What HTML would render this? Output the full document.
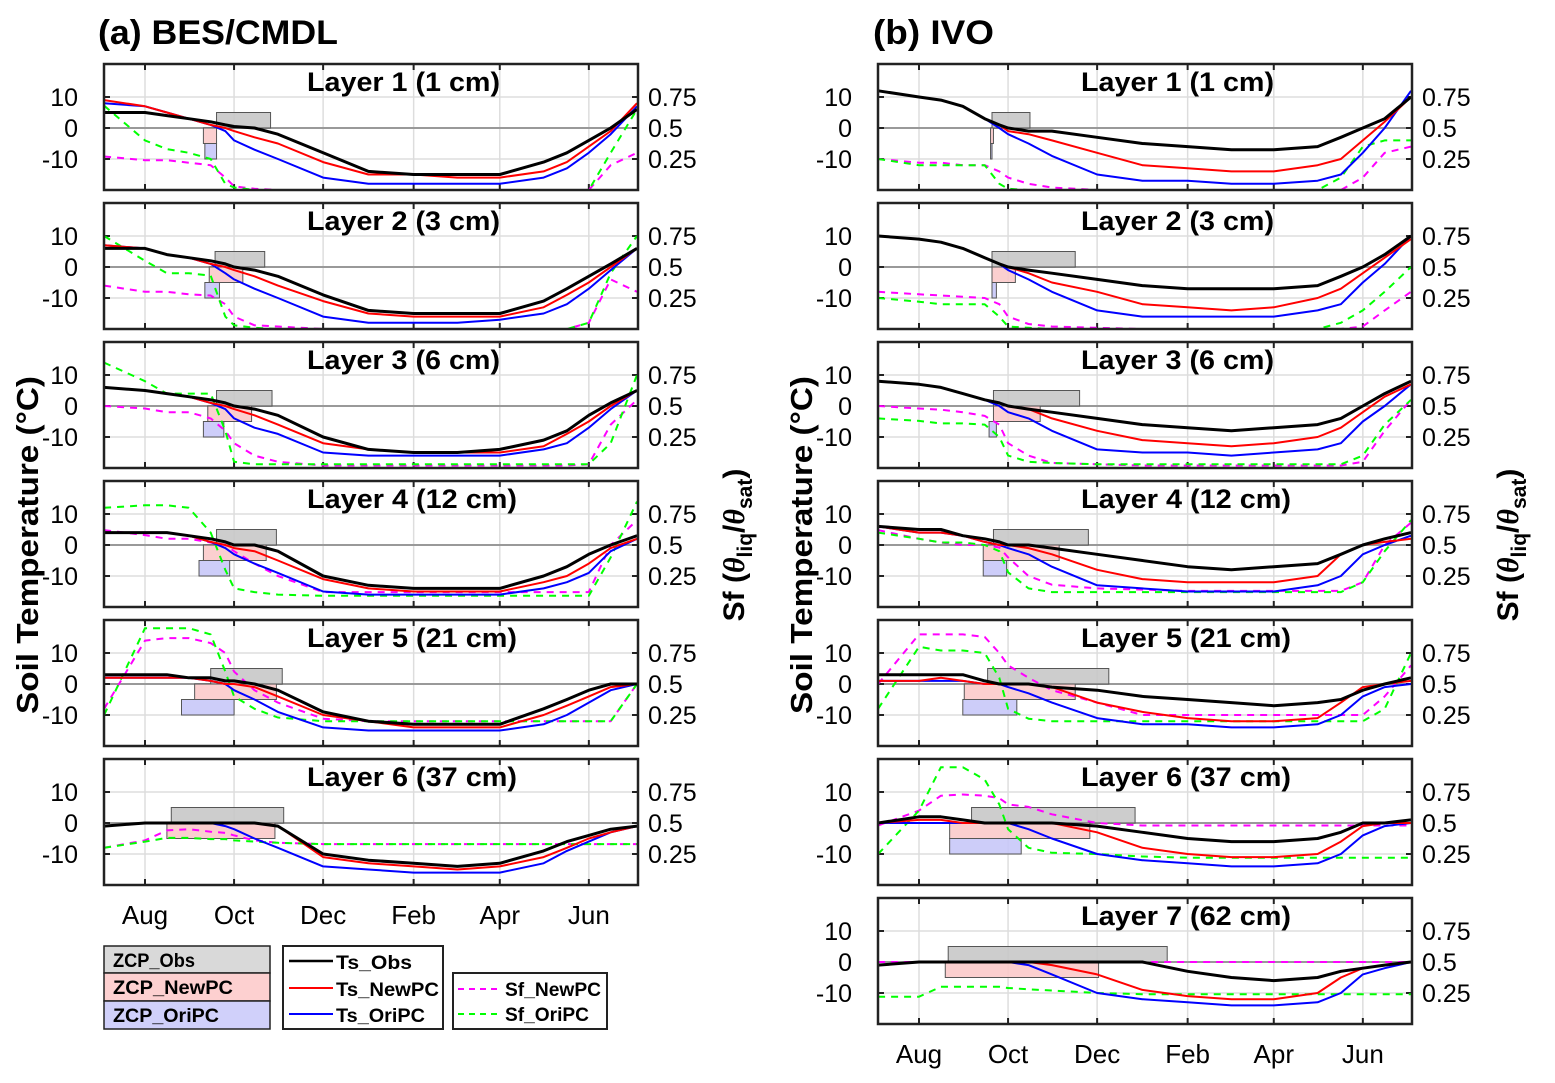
<!DOCTYPE html>
<html><head><meta charset="utf-8"><style>
body{margin:0;background:#fff}
svg{display:block;font-family:"Liberation Sans",sans-serif}
</style></head><body>
<svg id="fig" width="1555" height="1083" viewBox="0 0 1555 1083" xmlns="http://www.w3.org/2000/svg">
<text x="98" y="44" font-size="34" font-weight="bold" textLength="240" lengthAdjust="spacingAndGlyphs">(a) BES/CMDL</text>
<text x="873" y="44" font-size="34" font-weight="bold" textLength="121" lengthAdjust="spacingAndGlyphs">(b) IVO</text>
<text transform="translate(38,545) rotate(-90)" text-anchor="middle" font-size="31" font-weight="bold" textLength="338" lengthAdjust="spacingAndGlyphs">Soil Temperature (°C)</text>
<text transform="translate(744,545) rotate(-90)" text-anchor="middle" font-size="30" font-weight="bold">Sf (<tspan font-family="Liberation Serif" font-style="italic">θ</tspan><tspan font-size="21" dy="8">liq</tspan><tspan dy="-8">/</tspan><tspan font-family="Liberation Serif" font-style="italic">θ</tspan><tspan font-size="21" dy="8">sat</tspan><tspan dy="-8">)</tspan></text>
<text transform="translate(812,545) rotate(-90)" text-anchor="middle" font-size="31" font-weight="bold" textLength="338" lengthAdjust="spacingAndGlyphs">Soil Temperature (°C)</text>
<text transform="translate(1518,545) rotate(-90)" text-anchor="middle" font-size="30" font-weight="bold">Sf (<tspan font-family="Liberation Serif" font-style="italic">θ</tspan><tspan font-size="21" dy="8">liq</tspan><tspan dy="-8">/</tspan><tspan font-family="Liberation Serif" font-style="italic">θ</tspan><tspan font-size="21" dy="8">sat</tspan><tspan dy="-8">)</tspan></text>
<g id="plots"></g>
<g>
<rect x="104" y="946" width="166" height="27" fill="#d9d9d9" stroke="#222" stroke-width="1.5"/>
<rect x="104" y="973" width="166" height="28" fill="#fdd0d0" stroke="#222" stroke-width="1.5"/>
<rect x="104" y="1001" width="166" height="28" fill="#d0d0fa" stroke="#222" stroke-width="1.5"/>
<text x="113" y="967" font-size="19" font-weight="bold" textLength="82" lengthAdjust="spacingAndGlyphs">ZCP_Obs</text>
<text x="113" y="994" font-size="19" font-weight="bold" textLength="120" lengthAdjust="spacingAndGlyphs">ZCP_NewPC</text>
<text x="113" y="1022" font-size="19" font-weight="bold" textLength="106" lengthAdjust="spacingAndGlyphs">ZCP_OriPC</text>
</g>
<g>
<rect x="283" y="946" width="160" height="83" fill="#fff" stroke="#222" stroke-width="2"/>
<line x1="289" y1="961" x2="333" y2="961" stroke="#000" stroke-width="2.5"/>
<line x1="289" y1="988" x2="333" y2="988" stroke="#f00" stroke-width="2"/>
<line x1="289" y1="1014" x2="333" y2="1014" stroke="#00f" stroke-width="2"/>
<text x="336" y="969" font-size="19" font-weight="bold" textLength="76" lengthAdjust="spacingAndGlyphs">Ts_Obs</text>
<text x="336" y="996" font-size="19" font-weight="bold" textLength="103" lengthAdjust="spacingAndGlyphs">Ts_NewPC</text>
<text x="336" y="1022" font-size="19" font-weight="bold" textLength="89" lengthAdjust="spacingAndGlyphs">Ts_OriPC</text>
</g>
<g>
<rect x="453" y="973" width="154" height="56" fill="#fff" stroke="#222" stroke-width="2"/>
<line x1="458" y1="989" x2="500" y2="989" stroke="#f0f" stroke-width="2" stroke-dasharray="6,5"/>
<line x1="458" y1="1014" x2="500" y2="1014" stroke="#0f0" stroke-width="2" stroke-dasharray="6,5"/>
<text x="505" y="996" font-size="19" font-weight="bold" textLength="96" lengthAdjust="spacingAndGlyphs">Sf_NewPC</text>
<text x="505" y="1021" font-size="19" font-weight="bold" textLength="84" lengthAdjust="spacingAndGlyphs">Sf_OriPC</text>
</g>
</svg>
<script>
// sample days (days since Aug 1)
const days = [-28,0,15,30,45,55,61,75,91,122,153,184,214,243,273,289,304,319,337];
const monthLabels = ["Aug","Oct","Dec","Feb","Apr","Jun"];
const monthDays = [0,61,122,184,243,304];
const layerNames = ["Layer 1 (1 cm)","Layer 2 (3 cm)","Layer 3 (6 cm)","Layer 4 (12 cm)","Layer 5 (21 cm)","Layer 6 (37 cm)","Layer 7 (62 cm)"];
const tTicks = [10,0,-10];
const sfTicks = ["0.75","0.5","0.25"];
// Site A (BES/CMDL)
const obsA = [
[5,5,4,3,2,1,0.5,0,-2,-8,-14,-15,-15,-15,-11,-8,-4,0,6],
[6,6,4,3,2,1,0,-1,-3,-9,-14,-15,-15,-15,-11,-7,-3,1,6],
[6,5,4,3,2,1,0,-1,-3,-10,-14,-15,-15,-14,-11,-8,-3,1,5],
[4,4,4,3,2,1,0,0,-2,-10,-13,-14,-14,-14,-10,-7,-3,0,3],
[3,3,3,2,2,1,1,0,-2,-9,-12,-13,-13,-13,-8,-5,-2,0,0],
[-1,0,0,0,0,0,0,0,-1,-10,-12,-13,-14,-13,-9,-6,-4,-2,-1]];
const newA = [
[9,7,5,3,1,0,-1,-3,-5,-11,-15,-15,-16,-16,-14,-11,-6,-1,8],
[7,6,4,3,1,0,-1,-3,-6,-11,-15,-16,-16,-16,-13,-9,-5,0,6],
[6,5,4,3,1,0,-1,-3,-6,-12,-14,-15,-15,-15,-13,-9,-5,0,5],
[4,4,4,3,1,0,-1,-2,-5,-11,-14,-15,-15,-15,-12,-10,-6,-1,2],
[2,2,2,2,1,0,0,-1,-4,-10,-12,-14,-14,-14,-10,-7,-4,-1,0],
[-1,0,0,0,0,0,0,0,-1,-11,-13,-14,-15,-14,-11,-8,-5,-3,-1]];
const oriA = [
[8,7,5,3,1,-1,-4,-7,-10,-16,-18,-18,-18,-18,-16,-13,-8,-2,7],
[7,6,4,3,1,-2,-4,-7,-10,-16,-18,-18,-18,-17,-15,-12,-7,-1,6],
[6,5,4,3,1,-1,-4,-7,-9,-15,-16,-16,-16,-16,-14,-12,-7,-1,5],
[4,4,4,3,1,-1,-3,-6,-9,-15,-16,-16,-16,-16,-14,-12,-9,-2,2],
[2,2,2,2,1,0,-2,-5,-9,-14,-15,-15,-15,-15,-13,-10,-6,-2,0],
[-1,0,0,0,0,-1,-2,-5,-8,-14,-15,-16,-16,-16,-13,-9,-6,-3,-1]];
const sfNewA = [
[0.27,0.24,0.24,0.22,0.2,0.1,0.03,0.01,0,0,0,0,0,0,0,0,0,0.2,0.3],
[0.35,0.3,0.3,0.28,0.27,0.2,0.1,0.03,0.02,0,0,0,0,0,0,0,0.05,0.4,0.3],
[0.5,0.48,0.45,0.45,0.4,0.3,0.2,0.1,0.05,0.02,0.02,0.02,0.02,0.02,0.02,0.02,0.03,0.35,0.55],
[0.62,0.58,0.55,0.55,0.52,0.5,0.45,0.35,0.25,0.12,0.12,0.12,0.12,0.12,0.12,0.12,0.12,0.5,0.7],
[0.3,0.85,0.87,0.87,0.83,0.75,0.6,0.45,0.35,0.22,0.2,0.2,0.2,0.2,0.2,0.2,0.2,0.2,0.5],
[0.3,0.36,0.44,0.45,0.43,0.42,0.4,0.36,0.34,0.33,0.33,0.33,0.33,0.33,0.33,0.33,0.33,0.33,0.33]];
const sfOriA = [
[0.68,0.4,0.33,0.3,0.25,0.05,0.02,0,0,0,0,0,0,0,0,0,0,0.3,0.65],
[0.75,0.55,0.45,0.45,0.43,0.1,0.03,0.01,0,0,0,0,0,0,0,0,0.05,0.45,0.75],
[0.85,0.7,0.6,0.6,0.6,0.3,0.05,0.03,0.03,0.03,0.03,0.03,0.03,0.03,0.03,0.03,0.03,0.2,0.75],
[0.8,0.82,0.82,0.8,0.6,0.3,0.15,0.12,0.1,0.09,0.09,0.09,0.09,0.09,0.09,0.09,0.09,0.4,0.85],
[0.25,0.95,0.95,0.95,0.9,0.6,0.4,0.3,0.23,0.2,0.2,0.2,0.2,0.2,0.2,0.2,0.2,0.2,0.5],
[0.3,0.35,0.38,0.38,0.37,0.37,0.36,0.35,0.34,0.33,0.33,0.33,0.33,0.33,0.33,0.33,0.33,0.33,0.33]];
const zcpObsA = [[49,86],[48,82],[49,87],[49,90],[45,94],[18,95]];
const zcpNewA = [[40,49],[44,67],[43,73],[40,83],[34,90],[15,89]];
const zcpOriA = [[41,49],[41,51],[40,54],[37,58],[25,61],null];
// Site B (IVO)
const obsB = [
[12,10,9,7,3,1,0,-1,-1,-3,-5,-6,-7,-7,-6,-3,0,3,10],
[10,9,8,6,3,1,0,-1,-2,-4,-6,-7,-7,-7,-6,-3,0,4,10],
[8,7,6,4,2,1,0,-1,-2,-4,-6,-7,-8,-7,-6,-4,0,4,8],
[6,5,5,3,2,1,0,0,-1,-3,-5,-7,-8,-7,-6,-3,0,2,4],
[3,3,3,3,1,0,0,0,-1,-2,-4,-5,-6,-7,-6,-5,-2,0,2],
[0,2,2,1,0,0,0,0,0,-1,-3,-5,-6,-6,-5,-3,0,0,1],
[-1,0,0,0,0,0,0,0,0,0,0,-3,-5,-6,-5,-3,-2,-1,0]];
const newB = [
[12,10,9,7,3,1,-1,-2,-4,-8,-12,-13,-14,-14,-12,-10,-4,2,10],
[10,9,8,6,3,1,0,-2,-5,-8,-12,-13,-14,-13,-10,-7,-2,3,9],
[8,7,6,4,2,1,0,-1,-4,-8,-11,-12,-13,-12,-10,-7,-2,3,7],
[6,4,4,3,1,0,0,-1,-3,-8,-11,-12,-12,-12,-10,-3,0,1,2],
[1,1,2,1,0,0,0,0,-1,-6,-9,-11,-12,-12,-11,-6,-1,0,1],
[0,1,1,0,0,0,0,0,0,-3,-8,-10,-11,-11,-10,-6,-1,0,0],
[-1,0,0,0,0,0,0,0,-1,-4,-9,-11,-12,-12,-10,-5,-2,-1,0]];
const oriB = [
[12,10,9,7,3,0,-2,-5,-9,-15,-17,-17,-18,-18,-17,-15,-8,0,12],
[10,9,8,6,3,1,-1,-4,-8,-14,-16,-16,-16,-16,-14,-12,-5,1,10],
[8,7,6,4,2,0,-2,-4,-8,-14,-15,-15,-16,-15,-14,-12,-5,0,7],
[6,4,4,3,1,0,-1,-3,-7,-13,-14,-15,-15,-15,-13,-10,-3,0,3],
[1,1,1,1,0,0,-1,-3,-6,-11,-13,-13,-14,-14,-13,-10,-4,-1,0],
[0,0,0,0,0,0,0,-2,-5,-10,-12,-13,-14,-14,-13,-10,-4,-1,0],
[-1,0,0,0,0,0,0,-1,-4,-10,-12,-13,-14,-14,-13,-10,-4,-2,0]];
const sfNewB = [
[0.25,0.22,0.22,0.2,0.2,0.15,0.1,0.05,0.02,0,0,0,0,0,0,0,0.1,0.3,0.35],
[0.3,0.28,0.27,0.26,0.25,0.2,0.1,0.04,0.02,0.01,0,0,0,0,0,0,0.02,0.15,0.3],
[0.5,0.48,0.47,0.45,0.42,0.35,0.2,0.1,0.04,0.03,0.02,0.02,0.02,0.02,0.02,0.02,0.05,0.3,0.55],
[0.62,0.55,0.52,0.5,0.5,0.48,0.4,0.25,0.18,0.15,0.14,0.13,0.13,0.13,0.13,0.13,0.2,0.5,0.68],
[0.5,0.9,0.9,0.9,0.88,0.75,0.65,0.55,0.45,0.35,0.25,0.25,0.25,0.25,0.25,0.25,0.25,0.4,0.65],
[0.48,0.6,0.72,0.73,0.72,0.7,0.65,0.63,0.57,0.5,0.48,0.48,0.48,0.48,0.48,0.48,0.48,0.48,0.48],
[0.5,0.5,0.5,0.5,0.5,0.5,0.5,0.5,0.5,0.5,0.5,0.5,0.5,0.5,0.5,0.5,0.5,0.5,0.5]];
const sfOriB = [
[0.25,0.2,0.2,0.2,0.2,0.05,0.01,0,0,0,0,0,0,0,0,0.1,0.35,0.4,0.4],
[0.25,0.22,0.2,0.2,0.2,0.1,0.02,0.01,0,0,0,0,0,0,0,0.05,0.15,0.3,0.5],
[0.4,0.38,0.36,0.36,0.35,0.25,0.1,0.05,0.04,0.03,0.03,0.03,0.03,0.03,0.03,0.03,0.1,0.35,0.55],
[0.6,0.55,0.52,0.52,0.5,0.45,0.28,0.15,0.12,0.12,0.12,0.12,0.12,0.12,0.12,0.12,0.2,0.45,0.7],
[0.3,0.8,0.77,0.77,0.75,0.55,0.3,0.22,0.2,0.2,0.2,0.2,0.2,0.2,0.2,0.2,0.2,0.3,0.75],
[0.25,0.6,0.95,0.95,0.85,0.65,0.45,0.3,0.26,0.25,0.23,0.22,0.22,0.22,0.22,0.22,0.22,0.22,0.22],
[0.22,0.22,0.3,0.3,0.3,0.3,0.29,0.28,0.27,0.25,0.24,0.24,0.24,0.24,0.24,0.24,0.24,0.24,0.24]];
const zcpObsB = [[50,76],[50,107],[51,110],[51,116],[47,130],[36,148],[20,170]];
const zcpNewB = [[49,51],[50,66],[51,83],[44,96],[31,107],[21,117],[18,123]];
const zcpOriB = [[49,50],[50,53],[48,53],[44,60],[30,67],[21,70],null];

const NS = "http://www.w3.org/2000/svg";
const root = document.getElementById("plots");
function mk(tag, attrs, parent) {
  const e = document.createElementNS(NS, tag);
  for (const k in attrs) e.setAttribute(k, attrs[k]);
  (parent || root).appendChild(e);
  return e;
}
const W = 534, H = 126, PX_DAY = 1.46, PX_DEG = 3.1;
function xScale(left, d) { return left + 41 + d * PX_DAY; }
function yScale(top, t) { return top + 64 - t * PX_DEG; }
function sfToT(s) { return (s - 0.5) * 40; }

function drawPanel(site, left, i, obs, nw, ori, sfN, sfO, zo, zn, zr, showMonths) {
  const top = 64 + i * 139;
  const g = mk("g", {});
  
  
  const cid = "clip-" + site + i;
  const cp = mk("clipPath", {id: cid}, g);
  mk("rect", {x: left, y: top, width: W, height: H}, cp);
  monthDays.forEach(d => {
    const x = xScale(left, d);
    const gl = mk("line", {x1: x, x2: x, y1: top, y2: top + H, stroke: "#ddd", "stroke-width": 1.5}, g);
    
    
    mk("line", {x1: x, x2: x, y1: top, y2: top + 6, stroke: "#222", "stroke-width": 2}, g);
    mk("line", {x1: x, x2: x, y1: top + H - 6, y2: top + H, stroke: "#222", "stroke-width": 2}, g);
  });
  tTicks.forEach(t => {
    const y = yScale(top, t);
    const gl = mk("line", {x1: left, x2: left + W, y1: y, y2: y, stroke: t === 0 ? "#999" : "#ddd", "stroke-width": t === 0 ? 2 : 1.5}, g);
    
    
    mk("line", {x1: left, x2: left + 6, y1: y, y2: y, stroke: "#222", "stroke-width": 2}, g);
    mk("line", {x1: left + W - 6, x2: left + W, y1: y, y2: y, stroke: "#222", "stroke-width": 2}, g);
    const tl = mk("text", {x: left - 26, y: y + 9, "text-anchor": "end", "font-size": 25}, g);
    tl.textContent = t;
    
    
  });
  sfTicks.forEach((s, k) => {
    const y = yScale(top, sfToT(parseFloat(s)));
    const tl = mk("text", {x: left + W + 10, y: y + 9, "font-size": 25}, g);
    tl.textContent = s;
    
    
  });
  const pg = mk("g", {"clip-path": "url(#" + cid + ")"}, g);
  const boxes = [[zo[i], 5, 0, "#c8c8c8", "zcp-obs-box"], [zn[i], 0, -5, "#fbcaca", "zcp-newpc-box"], [zr[i], -5, -10, "#c8c8f8", "zcp-oripc-box"]];
  boxes.forEach(b => {
    if (!b[0]) return;
    const x1 = xScale(left, b[0][0]), x2 = xScale(left, b[0][1]);
    const r = mk("rect", {x: x1, y: yScale(top, b[1]), width: Math.max(1, x2 - x1), height: 5 * PX_DEG, fill: b[3], stroke: "#555", "stroke-width": 1, "fill-opacity": 0.9}, pg);
    
    
  });
  function line(vals, color, w, dash, isSf, name) {
    const pts = vals.map((v, k) => xScale(left, days[k]).toFixed(1) + "," + yScale(top, isSf ? sfToT(v) : v).toFixed(1)).join(" ");
    const p = mk("polyline", {points: pts, fill: "none", stroke: color, "stroke-width": w, "stroke-linejoin": "round"}, pg);
    if (dash) p.setAttribute("stroke-dasharray", dash);
    
    
  }
  line(sfN[i], "#f0f", 2, "7,6", true, "sf-newpc-line");
  line(sfO[i], "#0f0", 2, "7,6", true, "sf-oripc-line");
  line(ori[i], "#00f", 2, null, false, "ts-oripc-line");
  line(nw[i], "#f00", 2, null, false, "ts-newpc-line");
  line(obs[i], "#000", 3, null, false, "ts-obs-line");
  const fr = mk("rect", {x: left, y: top, width: W, height: H, fill: "none", stroke: "#222", "stroke-width": 2.5}, g);
  
  
  const tt = mk("text", {x: left + 203, y: top + 27, "font-size": 27, "font-weight": "bold"}, g);
  tt.textContent = layerNames[i];
  tt.setAttribute("textLength", i < 3 ? 193 : 210);
  tt.setAttribute("lengthAdjust", "spacingAndGlyphs");
  
  
  if (showMonths) {
    monthDays.forEach((d, k) => {
      const ml = mk("text", {x: xScale(left, d), y: top + H + 39, "text-anchor": "middle", "font-size": 26}, g);
      ml.textContent = monthLabels[k];
      
      
    });
  }
}
for (let i = 0; i < 6; i++) drawPanel("a", 104, i, obsA, newA, oriA, sfNewA, sfOriA, zcpObsA, zcpNewA, zcpOriA, i === 5);
for (let i = 0; i < 7; i++) drawPanel("b", 878, i, obsB, newB, oriB, sfNewB, sfOriB, zcpObsB, zcpNewB, zcpOriB, i === 6);
</script>
</body></html>
